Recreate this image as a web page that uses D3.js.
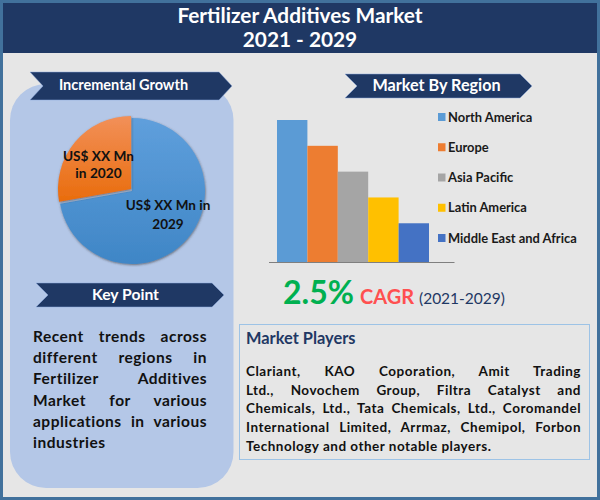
<!DOCTYPE html>
<html>
<head>
<meta charset="utf-8">
<script src="https://d3js.org/d3.v7.min.js"></script>
<style>
  body { margin: 0; background: #e6e6e6; }
  svg { display: block; }
  text { font-family: Lato, "Open Sans", sans-serif; font-weight: 700; }
</style>
</head>
<body>
<svg id="chart" width="600" height="500"></svg>
<script>
// chart values
var titleLines = ['Fertilizer Additives Market', '2021 - 2029'];
var regions = ['North America', 'Europe', 'Asia Pacific', 'Latin America', 'Middle East and Africa'];
var regionValues = [5.5, 4.5, 3.5, 2.5, 1.5];
var regionColors = ['#5b9bd5', '#ed7d31', '#a5a5a5', '#ffc000', '#4472c4'];
var pieValues = [72.2, 27.8];
var keyPointLines = ['Recent trends across', 'different regions in', 'Fertilizer Additives', 'Market for various', 'applications in various', 'industries'];
var playerLines = ['Clariant, KAO Coporation, Amit Trading', 'Ltd., Novochem Group, Filtra Catalyst and', 'Chemicals, Ltd., Tata Chemicals, Ltd., Coromandel', 'International Limited, Arrmaz, Chemipol, Forbon', 'Technology and other notable players.'];

var navy = '#1f3864';
var svg = d3.select('#chart');
var defs = svg.append('defs');

function gradient(id, top, bottom) {
  var g = defs.append('linearGradient').attr('id', id)
      .attr('x1', 0).attr('y1', 0).attr('x2', 0).attr('y2', 1);
  g.append('stop').attr('offset', '0%').attr('stop-color', top);
  g.append('stop').attr('offset', '100%').attr('stop-color', bottom);
}
gradient('blueGrad', '#5f9fdc', '#3f86c6');
gradient('orangeGrad', '#f29059', '#e96c0c');

var shadow = defs.append('filter').attr('id', 'pieShadow')
    .attr('x', '-20%').attr('y', '-20%').attr('width', '140%').attr('height', '140%');
shadow.append('feDropShadow').attr('dx', 0.5).attr('dy', 1).attr('stdDeviation', 1.2)
    .attr('flood-color', '#333').attr('flood-opacity', 0.6);

// frame and header
svg.append('rect').attr('x', 1.5).attr('y', 1.5).attr('width', 597).attr('height', 497)
    .attr('fill', '#e6e6e6').attr('stroke', '#41719c').attr('stroke-width', 3);
svg.append('rect').attr('x', 3).attr('y', 3).attr('width', 594).attr('height', 50).attr('fill', navy);
svg.selectAll('.title').data(titleLines).enter().append('text')
    .attr('class', 'title')
    .attr('x', 300)
    .attr('y', function(d, i) { return 23 + i * 24; })
    .attr('text-anchor', 'middle')
    .attr('font-size', 20.8)
    .attr('fill', '#fff')
    .text(function(d) { return d; });

// left panel
svg.append('rect').attr('x', 10).attr('y', 84).attr('width', 223.5).attr('height', 404)
    .attr('rx', 36).attr('fill', '#b4c7e7');

// ribbon banner with a notch on the left and a point on the right
function ribbon(x0, x1, y0, y1, notch, label, size, labelX) {
  var mid = (y0 + y1) / 2;
  var pts = [[x0, y0], [x1 - notch, y0], [x1, mid], [x1 - notch, y1], [x0, y1], [x0 + notch, mid]];
  svg.append('polygon').attr('points', pts.join(' '))
      .attr('fill', navy).attr('stroke', '#8faadc').attr('stroke-width', 0.5);
  svg.append('text').attr('x', labelX).attr('y', mid + size * 0.3)
      .attr('text-anchor', 'middle').attr('font-size', size).attr('fill', '#fff').text(label);
}
ribbon(30, 232, 72, 100, 13, 'Incremental Growth', 14.5, 123.5);
ribbon(345, 532, 74, 98, 12, 'Market By Region', 16.2, 436.5);
ribbon(36, 224, 283, 307, 12, 'Key Point', 15.7, 125.5);

// pie: orange slice is pulled slightly out of the blue one
var arc = d3.arc().innerRadius(0).outerRadius(73);
var pieData = d3.pie().sort(null).startAngle(0).endAngle(2 * Math.PI)(pieValues);
var offsets = [[132, 191], [131, 189]];
var pieFills = ['url(#blueGrad)', 'url(#orangeGrad)'];
svg.selectAll('.slice').data(pieData).enter().append('path')
    .attr('class', 'slice')
    .attr('transform', function(d, i) { return 'translate(' + offsets[i] + ')'; })
    .attr('d', arc)
    .attr('fill', function(d, i) { return pieFills[i]; })
    .attr('filter', 'url(#pieShadow)');

function centered(lines, cx, ys, size, color) {
  lines.forEach(function(s, i) {
    svg.append('text').attr('x', cx).attr('y', ys[i]).attr('text-anchor', 'middle')
        .attr('font-size', size).attr('fill', color).text(s);
  });
}
centered(['US$ XX Mn', 'in 2020'], 98.5, [161, 178], 13.7, '#111');
centered(['US$ XX Mn in', '2029'], 168, [210, 229], 13.5, '#111');

// bars
var barX = d3.scaleBand().domain(regions).range([277, 429]);
var barY = d3.scaleLinear().domain([0, 5.5]).range([262, 120]);
svg.selectAll('.bar').data(regions).enter().append('rect')
    .attr('class', 'bar')
    .attr('x', function(d) { return barX(d); })
    .attr('y', function(d, i) { return barY(regionValues[i]); })
    .attr('width', barX.bandwidth())
    .attr('height', function(d, i) { return barY(0) - barY(regionValues[i]); })
    .attr('fill', function(d, i) { return regionColors[i]; });
svg.append('line').attr('x1', 269).attr('x2', 454.5).attr('y1', 262.5).attr('y2', 262.5)
    .attr('stroke', '#7f7f7f').attr('stroke-width', 1);

// legend
var legendY = d3.scalePoint().domain(regions).range([117, 238]);
var legend = svg.selectAll('.legend').data(regions).enter().append('g')
    .attr('class', 'legend')
    .attr('transform', function(d) { return 'translate(0,' + legendY(d) + ')'; });
legend.append('rect').attr('x', 438).attr('y', -4).attr('width', 7.5).attr('height', 8)
    .attr('fill', function(d, i) { return regionColors[i]; });
legend.append('text').attr('x', 448).attr('y', 4.5)
    .attr('font-size', 12.9).attr('fill', '#1a1a1a').text(function(d) { return d; });

// CAGR line
svg.append('text').attr('x', 283).attr('y', 304).attr('font-size', 32).attr('fill', '#00b050').text('2.5%');
svg.append('text').attr('x', 360).attr('y', 304).attr('font-size', 20).attr('fill', '#ff5050').text('CAGR');
svg.append('text').attr('x', 419).attr('y', 304).attr('font-size', 15.5).attr('fill', navy)
    .style('font-weight', 400).text('(2021-2029)');

// market players box
svg.append('rect').attr('x', 239.5).attr('y', 324.5).attr('width', 350).attr('height', 135)
    .attr('fill', '#e6e6e6').attr('stroke', '#9dc3e6').attr('stroke-width', 1);
svg.append('text').attr('x', 246).attr('y', 344).attr('font-size', 16.4).attr('fill', navy).text('Market Players');

// justified paragraph: spread each line with word-spacing, last line stays natural
function justified(lines, x, width, y0, step, size, spacing) {
  lines.forEach(function(s, i) {
    var t = svg.append('text').attr('x', x).attr('y', y0 + i * step)
        .attr('font-size', size).attr('letter-spacing', spacing).attr('fill', '#111').text(s);
    if (i < lines.length - 1) {
      var gaps = s.split(' ').length - 1;
      var extra = (width - t.node().getComputedTextLength()) / gaps;
      t.attr('word-spacing', extra);
    }
  });
}
justified(keyPointLines, 33, 174, 342, 21.2, 15.5, 0.5);
justified(playerLines, 246, 335, 376, 18.7, 13.5, 0.5);
</script>
</body>
</html>
